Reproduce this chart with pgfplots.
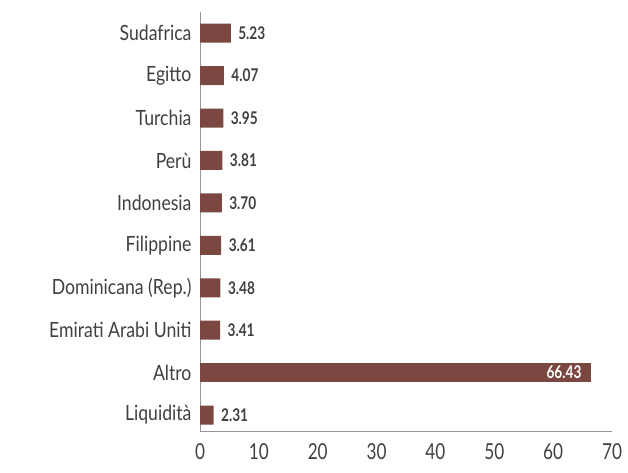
\documentclass[border=0pt]{standalone}
\usepackage{pgfplots}
\pgfplotsset{compat=1.18}
\usepackage{fontspec}
\setmainfont{Lato}[FakeStretch=0.84]
\newfontfamily\numfont{Lato}[FakeStretch=0.78]
\definecolor{barc}{RGB}{122,72,64}
\definecolor{txt}{RGB}{64,64,64}
\definecolor{axc}{RGB}{150,150,150}
\begin{document}
\begin{tikzpicture}
\path[use as bounding box] (0,0) rectangle (628pt,473pt);
\begin{axis}[
  at={(200pt,41pt)}, anchor=south west,
  scale only axis, width=412pt, height=420pt,
  xmin=0, xmax=70, ymin=-0.4, ymax=9.5,
  axis x line=bottom, axis y line=left,
  axis line style={-, draw=axc, line width=1pt},
  major tick length=0pt,
  xtick={0,10,...,70},
  ytick={0,...,9},
  yticklabels={Liquidità,Altro,Emirati Arabi Uniti,Dominicana (Rep.),Filippine,Indonesia,Perù,Turchia,Egitto,Sudafrica},
  /pgf/number format/assume math mode=true,
  xticklabel style={font=\numfont\fontsize{22}{22}\selectfont, text=txt, yshift=-8pt},
  yticklabel style={font=\fontsize{21}{21}\selectfont, text=txt, xshift=-5pt},
  xbar, bar width=19pt, bar shift=0pt,
  nodes near coords,
  nodes near coords style={font=\numfont\bfseries\fontsize{17.5}{17.5}\selectfont, text=txt,
    /pgf/number format/fixed, /pgf/number format/fixed zerofill, /pgf/number format/precision=2},
  clip=false,
]
\addplot[fill=barc, draw=none,
  every node near coord/.append style={anchor=west, xshift=4pt}]
  coordinates {(2.31,0) (3.41,2) (3.48,3) (3.61,4) (3.70,5) (3.81,6) (3.95,7) (4.07,8) (5.23,9)};
\addplot[fill=barc, draw=none,
  every node near coord/.append style={anchor=east, xshift=-6pt, text=white}]
  coordinates {(66.43,1)};
\end{axis}
\end{tikzpicture}
\end{document}
